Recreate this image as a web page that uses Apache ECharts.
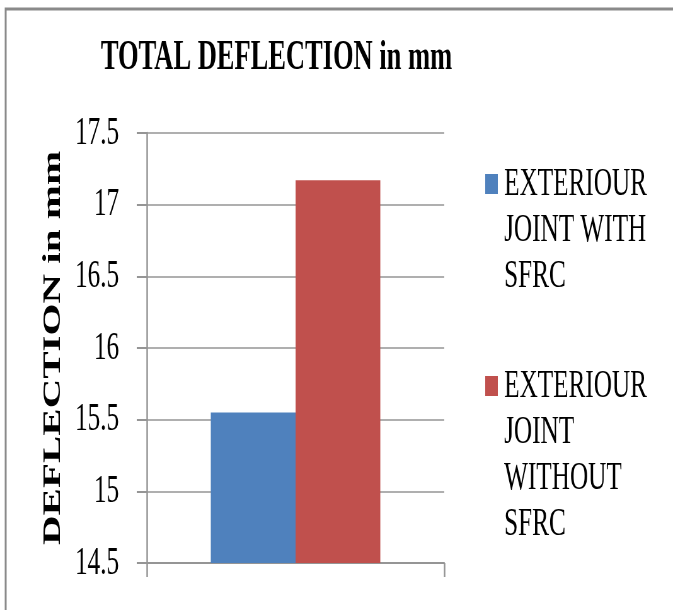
<!DOCTYPE html>
<html>
<head>
<meta charset="utf-8">
<title>TOTAL DEFLECTION in mm</title>
<script src="https://cdn.jsdelivr.net/npm/echarts@6/dist/echarts.min.js"></script>
<style>
  html, body { margin: 0; padding: 0; overflow: hidden; background: #ffffff; width: 673px; height: 610px; }
  /* the chart is laid out wide and narrowed horizontally, giving the condensed lettering */
  #chart { width: 1068px; height: 610px; transform: scaleX(0.63015); transform-origin: 0 0; }
</style>
</head>
<body>
<div id="chart"></div>
<script>
// ---- data ----
const categories = ['TOTAL DEFLECTION'];
const seriesNames = ['EXTERIOUR\nJOINT WITH\nSFRC', 'EXTERIOUR\nJOINT\nWITHOUT\nSFRC'];
const withSfrc = [15.55];
const withoutSfrc = [17.17];
const yMin = 14.5;
const yMax = 17.5;
const yStep = 0.5;

// ---- styling ----
const serif = '"Liberation Serif", serif';
const colors = ['#4F81BD', '#C0504D'];
const gridGray = '#959595';
const lineH = 46;

// Legend swatch sits beside the first line of a multi-line name:
// the icon path spans the whole text block height, with the filled
// square placed at the first line and zero-area strokes marking the extent.
function legendFor(name, top) {
  const lines = name.split('\n').length;
  const h = lines * lineH;
  const sq = 20;
  const y0 = lineH / 2 - sq / 2;
  const icon = 'path://' +
    'M0,0L25,0L0,0Z' +
    'M0,' + h + 'L25,' + h + 'L0,' + h + 'Z' +
    'M0,' + y0 + 'L' + sq + ',' + y0 + 'L' + sq + ',' + (y0 + sq) + 'L0,' + (y0 + sq) + 'Z';
  return {
    orient: 'vertical',
    left: 770,
    top: top,
    padding: 0,
    itemWidth: 25,
    itemHeight: h,
    icon: icon,
    selectedMode: false,
    data: [name],
    textStyle: { fontFamily: serif, fontSize: 40, lineHeight: lineH, color: '#000000' }
  };
}

const chart = echarts.init(document.getElementById('chart'), null, { renderer: 'canvas' });

chart.setOption({
  animation: false,
  backgroundColor: '#ffffff',
  color: colors,
  textStyle: { fontFamily: serif },
  title: {
    text: 'TOTAL DEFLECTION in mm',
    left: 160,
    top: 37,
    padding: 0,
    textStyle: { fontFamily: serif, fontWeight: 'bold', fontSize: 42, lineHeight: 42, color: '#000' }
  },
  legend: [
    legendFor(seriesNames[0], 161),
    legendFor(seriesNames[1], 363)
  ],
  grid: { left: 233, right: 363, top: 133, bottom: 47, containLabel: false },
  xAxis: {
    type: 'category',
    data: categories,
    boundaryGap: true,
    axisLine: { show: true, lineStyle: { color: gridGray, width: 2 } },
    axisTick: { show: true, length: 14, lineStyle: { color: gridGray, width: 2.5 } },
    axisLabel: { show: false },
    splitLine: { show: false }
  },
  yAxis: {
    type: 'value',
    min: yMin,
    max: yMax,
    interval: yStep,
    name: 'DEFLECTION in mm',
    nameLocation: 'middle',
    nameRotate: 90,
    nameGap: 128,
    nameTextStyle: { fontFamily: serif, fontWeight: 'bold', fontSize: 41, lineHeight: 41, color: '#000' },
    axisLine: { show: true, lineStyle: { color: gridGray, width: 2.5 } },
    axisTick: { show: true, length: 16, lineStyle: { color: gridGray, width: 2 } },
    axisLabel: { margin: 44, fontFamily: serif, fontSize: 40, color: '#000' },
    splitLine: { show: true, lineStyle: { color: gridGray, width: 1.6 } }
  },
  series: [
    {
      name: seriesNames[0],
      type: 'bar',
      data: withSfrc,
      barGap: '0%',
      barCategoryGap: '43%',
      itemStyle: { color: colors[0] }
    },
    {
      name: seriesNames[1],
      type: 'bar',
      data: withoutSfrc,
      barGap: '0%',
      barCategoryGap: '43%',
      itemStyle: { color: colors[1] }
    }
  ],
  graphic: [{
    type: 'rect',
    silent: true,
    shape: { x: 9, y: 9, width: 2000, height: 2000 },
    style: { fill: 'none', stroke: '#8a8a8a', lineWidth: 3 }
  }]
});
</script>
</body>
</html>
